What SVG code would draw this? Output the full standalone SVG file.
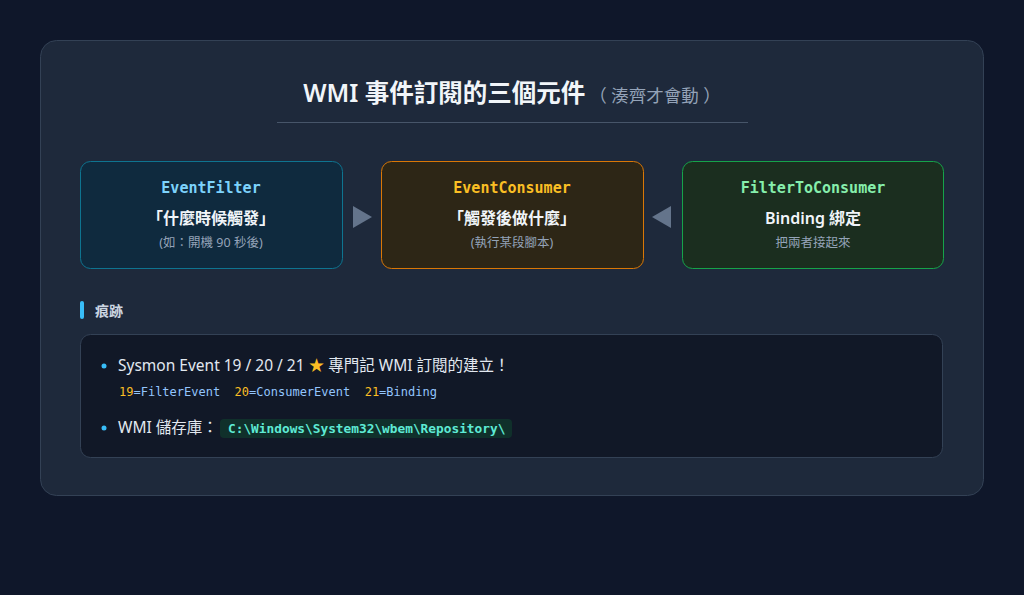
<svg xmlns="http://www.w3.org/2000/svg" width="1024" height="595" viewBox="0 0 1024 595">
<style>
.sans{font-family:"Noto Sans","Noto Sans CJK TC",sans-serif}
.mono{font-family:"DejaVu Sans Mono","Liberation Mono",monospace}
.ttl{font-size:15px;font-weight:bold}
.main{font-size:16px;font-weight:600;fill:#f1f5f9}
.sub{font-size:12.5px;fill:#94a3b8}
.arrow{fill:#64748b}
</style>
<rect width="1024" height="595" fill="#0f172a"/>
<rect x="40.5" y="40.5" width="943" height="455" rx="16" fill="#1e293b" stroke="#334155"/>
<g id="title">
<text x="512" y="102" text-anchor="middle" class="sans"><tspan font-size="24.5" font-weight="600" fill="#f1f5f9">WMI 事件訂閱的三個元件</tspan><tspan font-size="17.5" fill="#94a3b8" dx="4">（ 湊齊才會動 ）</tspan></text>
<line x1="277" y1="122.5" x2="748" y2="122.5" stroke="#475569"/>
</g>
<g id="node-filter">
<rect x="80.5" y="161.5" width="262" height="107" rx="10" fill="#0f2a3e" stroke="#0e7490"/>
<text x="211" y="193" text-anchor="middle" class="mono ttl" fill="#7dd3fc">EventFilter</text>
<text x="211" y="224" text-anchor="middle" class="sans main">「什麼時候觸發」</text>
<text x="211" y="247" text-anchor="middle" class="sans sub">(如：開機 90 秒後)</text>
</g>
<g id="node-consumer">
<rect x="381.5" y="161.5" width="262" height="107" rx="10" fill="#2d2616" stroke="#d97706"/>
<text x="512" y="193" text-anchor="middle" class="mono ttl" fill="#fbbf24">EventConsumer</text>
<text x="512" y="224" text-anchor="middle" class="sans main">「觸發後做什麼」</text>
<text x="512" y="247" text-anchor="middle" class="sans sub">(執行某段腳本)</text>
</g>
<g id="node-binding">
<rect x="682.5" y="161.5" width="261" height="107" rx="10" fill="#1b2e1f" stroke="#16a34a"/>
<text x="813" y="193" text-anchor="middle" class="mono ttl" fill="#86efac">FilterToConsumer</text>
<text x="813" y="224" text-anchor="middle" class="sans main">Binding 綁定</text>
<text x="813" y="247" text-anchor="middle" class="sans sub">把兩者接起來</text>
</g>
<g id="connectors">
<polygon class="arrow" points="353,206 372,217 353,228"/>
<polygon class="arrow" points="671,206 652,217 671,228"/>
</g>
<g id="traces">
<rect x="80" y="301" width="4" height="18" rx="2" fill="#38bdf8"/>
<text x="95" y="316" class="sans" font-size="14" font-weight="bold" fill="#cbd5e1">痕跡</text>
<rect x="80.5" y="334.5" width="862" height="123" rx="10" fill="#111827" stroke="#334155"/>
<circle cx="104" cy="366" r="2.5" fill="#38bdf8"/>
<text x="118" y="371" class="sans" font-size="15.5" fill="#e2e8f0">Sysmon Event 19 / 20 / 21 <tspan fill="#fbbf24">★</tspan> 專門記 WMI 訂閱的建立！</text>
<text x="119" y="396" class="mono" font-size="12" xml:space="preserve"><tspan fill="#fbbf24">19</tspan><tspan fill="#93c5fd">=FilterEvent  </tspan><tspan fill="#fbbf24">20</tspan><tspan fill="#93c5fd">=ConsumerEvent  </tspan><tspan fill="#fbbf24">21</tspan><tspan fill="#93c5fd">=Binding</tspan></text>
<circle cx="104" cy="428" r="2.5" fill="#38bdf8"/>
<text x="118" y="433" class="sans" font-size="15.5" fill="#e2e8f0">WMI 儲存庫：</text>
<rect x="220" y="419" width="292" height="19" rx="4" fill="#10302b"/>
<text x="228" y="433" class="mono" font-size="12.8" font-weight="bold" fill="#5eead4">C:\Windows\System32\wbem\Repository\</text>
</g>
</svg>
